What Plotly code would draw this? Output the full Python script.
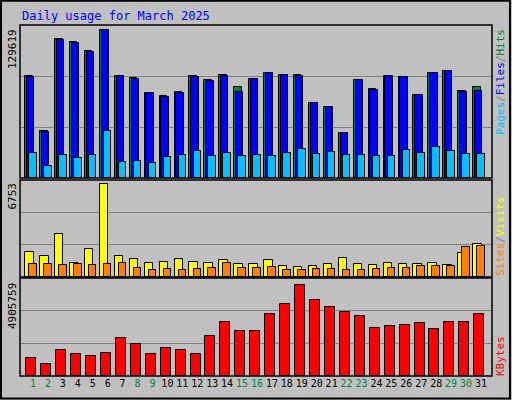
import plotly.graph_objects as go

days = list(range(1, 32))
hits = [89350, 41170, 121760, 119140, 111250, 129619, 89350, 87600, 74460, 71830, 75340, 89350, 85850, 90230, 79720, 86720, 91980, 90230, 90230, 65700, 62200, 39420, 85850, 77960, 89350, 88480, 72710, 91980, 93730, 76210, 79720]
files = [88480, 40300, 120890, 118260, 110380, 129619, 89350, 86720, 74460, 70960, 74460, 88480, 84970, 89350, 75340, 86720, 91980, 90230, 89350, 65700, 62200, 39420, 85850, 77090, 89350, 88480, 72710, 91980, 93730, 75340, 76210]
pages = [21900, 10510, 20150, 17520, 20150, 41170, 14020, 14890, 13140, 18400, 20150, 23650, 19270, 21900, 19270, 20150, 19270, 21900, 25400, 21020, 22780, 20150, 20150, 19270, 19270, 24530, 21900, 27160, 23650, 21020, 21020]
visits = [1779, 1487, 3095, 1048, 1998, 6753, 1487, 1267, 1048, 1121, 1267, 1121, 1048, 1194, 975, 975, 1194, 829, 755, 829, 975, 1340, 975, 902, 1048, 975, 975, 1048, 902, 1706, 2364]
sites = [975, 975, 902, 975, 902, 975, 1048, 682, 536, 609, 536, 609, 682, 1048, 682, 682, 755, 536, 536, 609, 609, 536, 536, 609, 682, 682, 829, 829, 829, 2145, 2218]
kbytes = [984720, 662450, 1414420, 1199570, 1092140, 1253280, 2058960, 1736690, 1199570, 1521840, 1414420, 1199570, 2166380, 2918350, 2434940, 2434940, 3348050, 3885170, 4905759, 4100020, 3724030, 3455470, 3240620, 2596080, 2703500, 2757220, 2864640, 2542370, 2918350, 2918350, 3348050]
weekend = {1, 2, 8, 9, 15, 16, 22, 23, 29, 30}
tick_text = [f'<span style="color:#008040">{d}</span>' if d in weekend else str(d) for d in days]

FONT = "DejaVu Sans Mono"
fig = go.Figure()
line = dict(color="black", width=1)

def bar(y, color, off, w, ya):
    fig.add_trace(go.Bar(x=days, y=y, marker=dict(color=color, line=line), offset=off, width=w,
                         xaxis="x", yaxis=ya, showlegend=False, hoverinfo="skip"))

bar(hits, "#008040", -0.52, 0.50, "y")
bar(files, "#0000FF", -0.40, 0.49, "y")
bar(pages, "#00C0FF", -0.25, 0.50, "y")
bar(visits, "#FFFF00", -0.52, 0.56, "y2")
bar(sites, "#FF8000", -0.25, 0.50, "y2")
bar(kbytes, "#FF0000", -0.45, 0.67, "y3")

tops = [134000, 7016, 5265800]
doms = [[0.555, 0.9375], [0.3075, 0.55], [0.06, 0.305]]
xdom = [20/512, 492/512]
for i, (t, d) in enumerate(zip(tops, doms)):
    key = "yaxis" if i == 0 else f"yaxis{i+1}"
    fig.layout[key] = dict(domain=d, range=[0, t], tickvals=[t/3, 2*t/3], showticklabels=False,
                           gridcolor="#808080", gridwidth=1, zeroline=False, anchor="x" if i == 2 else "free",
                           position=xdom[0], fixedrange=True)

fig.update_layout(
    width=512, height=400, margin=dict(l=0, r=0, t=0, b=0),
    paper_bgcolor="#C0C0C0", plot_bgcolor="#C0C0C0", barmode="overlay", bargap=0,
    xaxis=dict(domain=xdom, range=[0.13, 31.74], tickvals=days, ticktext=tick_text, showgrid=False,
               ticks="", tickangle=0, tickfont=dict(family=FONT, size=10, color="black"),
               anchor="y3", zeroline=False, fixedrange=True),
    font=dict(family=FONT),
)

shapes = [dict(type="rect", xref="paper", yref="paper", x0=0.002, x1=0.996, y0=0.004, y1=0.998,
               line=dict(color="black", width=2))]
for d in doms:
    shapes.append(dict(type="rect", xref="paper", yref="paper", x0=xdom[0], x1=xdom[1], y0=d[0], y1=d[1],
                       line=dict(color="black", width=1.5)))
fig.update_layout(shapes=shapes)

ann = [
    dict(text="Daily usage for March 2025", x=20/512, y=1-16/400, xanchor="left", yanchor="middle",
         font=dict(size=12, color="#0000FF", family=FONT)),
    dict(text="129619", x=12/512, y=1-27/400, textangle=-90, xanchor="center", yanchor="top",
         font=dict(size=11, color="black", family=FONT)),
    dict(text="6753", x=12/512, y=1-181/400, textangle=-90, xanchor="center", yanchor="top",
         font=dict(size=11, color="black", family=FONT)),
    dict(text="4905759", x=12/512, y=1-281/400, textangle=-90, xanchor="center", yanchor="top",
         font=dict(size=11, color="black", family=FONT)),
    dict(text='<span style="color:#00C0FF">Pages</span><span style="color:#808080">/</span><span style="color:#0000FF">Files</span><span style="color:#808080">/</span><span style="color:#008040">Hits</span>',
         x=500/512, y=1-27/400, textangle=-90, xanchor="center", yanchor="top", font=dict(size=11, family=FONT)),
    dict(text='<span style="color:#FF8000">Sites</span><span style="color:#808080">/</span><span style="color:#FFFF00">Visits</span>',
         x=500/512, y=1-278/400, textangle=-90, xanchor="center", yanchor="bottom", font=dict(size=11, family=FONT)),
    dict(text="KBytes", x=500/512, y=1-378/400, textangle=-90, xanchor="center", yanchor="bottom",
         font=dict(size=11, color="#FF0000", family=FONT)),
]
for a in ann:
    a.update(xref="paper", yref="paper", showarrow=False)
fig.update_layout(annotations=ann)

fig.write_html("out.html", config={"displayModeBar": False},
               post_script="document.body.style.margin='0';document.body.style.overflow='hidden';")
